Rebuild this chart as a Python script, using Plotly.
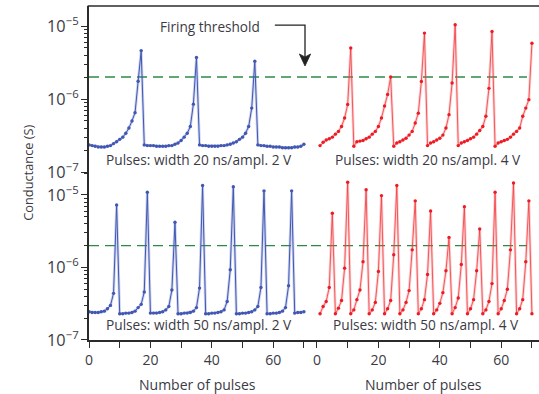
import plotly.graph_objects as go

# Conductance traces, in units of 1e-7 S
pulses_tl = list(range(0, 71))
g_tl = [2.35, 2.3, 2.25, 2.2, 2.2, 2.2, 2.25, 2.3, 2.45, 2.6,
        2.8, 3.0, 3.4, 4.0, 5.0, 6.5, 17.5, 46, 2.35, 2.3,
        2.3, 2.3, 2.25, 2.25, 2.25, 2.25, 2.3, 2.3, 2.4, 2.5,
        2.7, 3.0, 3.4, 4.2, 8.5, 37, 2.35, 2.3, 2.3, 2.25,
        2.25, 2.25, 2.25, 2.3, 2.3, 2.35, 2.4, 2.5, 2.6, 2.8,
        3.0, 3.4, 4.2, 7.5, 33, 2.35, 2.3, 2.3, 2.25, 2.25,
        2.2, 2.2, 2.2, 2.15, 2.15, 2.15, 2.15, 2.2, 2.2, 2.25,
        2.4]

pulses_tr = list(range(1, 71))
g_tr = [2.3, 2.55, 2.75, 2.85, 3.0, 3.3, 3.6, 4.2, 5.5, 8.4,
        50, 2.25, 2.6, 2.65, 2.7, 2.85, 3.0, 3.3, 3.6, 4.2, 5.5, 8.0, 11.5, 20, 2.25,
        2.5, 2.6, 2.75, 2.9, 3.2, 3.6, 4.7, 6.4, 17.4, 80,
        2.3, 2.5, 2.6, 2.75, 2.9, 3.2, 4.0, 6.1, 16.6, 104,
        2.3, 2.5, 2.6, 2.7, 2.85, 3.0, 3.3, 3.7, 4.2, 5.8, 14, 84,
        2.25, 2.5, 2.6, 2.7, 2.8, 3.0, 3.3, 3.6, 4.0, 5.8, 7.5, 9.8, 58]

pulses_bl = list(range(0, 71))
g_bl = [2.45, 2.4, 2.4, 2.4, 2.45, 2.5, 2.7, 3.0, 4.4, 73,
        2.3, 2.3, 2.35, 2.35, 2.4, 2.5, 2.8, 3.1, 4.6, 109,
        2.35, 2.35, 2.35, 2.4, 2.45, 2.6, 2.9, 4.9, 42, 2.3,
        2.3, 2.35, 2.35, 2.4, 2.5, 2.8, 5.2, 135, 2.3, 2.3,
        2.35, 2.35, 2.4, 2.45, 2.6, 3.4, 9.3, 130, 2.3, 2.3,
        2.35, 2.35, 2.4, 2.45, 2.6, 2.9, 5.3, 114, 2.3, 2.3,
        2.35, 2.35, 2.4, 2.5, 2.8, 5.6, 114, 2.35, 2.4, 2.4, 2.45]

pulses_br = list(range(1, 71))
g_br = [2.3, 2.9, 3.4, 5.3, 56,
        2.3, 2.75, 3.5, 9.8, 150,
        2.3, 2.6, 3.6, 4.9, 12, 118,
        2.3, 2.6, 3.3, 8.8, 98,
        2.3, 2.7, 3.5, 15, 135,
        2.3, 2.6, 3.3, 4.8, 17.5, 83,
        2.3, 2.7, 3.6, 8, 60,
        2.3, 2.6, 3.2, 4.5, 9, 26,
        2.3, 2.8, 3.8, 11, 69,
        2.3, 2.7, 3.6, 9, 34,
        2.3, 2.6, 3.4, 6, 109,
        2.3, 2.7, 3.5, 5, 17.5, 146,
        2.3, 2.7, 3.6, 12, 83,
        2.3]

UNIT = 1e-7
THRESHOLD = 2e-6
panel_labels = ["Pulses: width 20 ns/ampl. 2 V", "Pulses: width 20 ns/ampl. 4 V",
                "Pulses: width 50 ns/ampl. 2 V", "Pulses: width 50 ns/ampl. 4 V"]
x_major = [0, 20, 40, 60]
x_minor = [10, 30, 50, 70]

BLUE = "#4157b3"
BLUE_HALO = "rgba(90,110,195,0.3)"
RED = "#ec1c24"
RED_LINE = "rgba(242,55,60,0.8)"
RED_HALO = "rgba(245,90,95,0.28)"
GREEN = "#2d8a45"
TEXT = "#3b3a45"
AXIS = "#2b2b2b"
FONT = "Open Sans"

fig = go.Figure()


def add_series(x, g, xa, ya, line, halo, dot):
    y = [v * UNIT for v in g]
    fig.add_trace(go.Scatter(x=x, y=y, xaxis=xa, yaxis=ya, mode="lines",
                             line=dict(color=halo, width=2.8), hoverinfo="skip",
                             showlegend=False))
    fig.add_trace(go.Scatter(x=x, y=y, xaxis=xa, yaxis=ya, mode="lines+markers",
                             line=dict(color=line, width=1.0),
                             marker=dict(color=dot, size=3.4),
                             showlegend=False))


def add_threshold(x0, x1, xa, ya):
    fig.add_trace(go.Scatter(x=[x0, x1], y=[THRESHOLD, THRESHOLD], xaxis=xa, yaxis=ya,
                             mode="lines", line=dict(color=GREEN, width=1.4, dash="10px,6px"),
                             hoverinfo="skip", showlegend=False))


LEFT_RANGE = [0, 72.3]
RIGHT_RANGE = [-1.95, 72.3]

add_threshold(0, 72.3, "x3", "y3")
add_threshold(-1.95, 68.4, "x4", "y4")
add_threshold(0, 72.3, "x", "y")
add_threshold(-1.95, 68.4, "x2", "y2")

add_series(pulses_tl, g_tl, "x3", "y3", BLUE, BLUE_HALO, BLUE)
add_series(pulses_tr, g_tr, "x4", "y4", RED_LINE, RED_HALO, RED)
add_series(pulses_bl, g_bl, "x", "y", BLUE, BLUE_HALO, BLUE)
add_series(pulses_br, g_br, "x2", "y2", RED_LINE, RED_HALO, RED)

XSPLIT = 0.4933
YSPLIT = 0.503

xaxis_common = dict(showgrid=False, zeroline=False, showline=True,
                    linecolor=AXIS, linewidth=1.5, ticks="outside", ticklen=6,
                    tickwidth=1.3, tickcolor=AXIS, tickmode="array", tickvals=x_major,
                    tickfont=dict(size=14, color=TEXT, family=FONT),
                    minor=dict(ticks="outside", ticklen=6, tickwidth=1.3, tickcolor=AXIS,
                               tickvals=x_minor, showgrid=False))
yaxis_common = dict(type="log", showgrid=False, zeroline=False, showline=True,
                    linecolor=AXIS, linewidth=1.5, ticks="outside", ticklen=6,
                    tickwidth=1.3, tickcolor=AXIS, dtick=1, exponentformat="power",
                    tickfont=dict(size=13, color=TEXT, family=FONT),
                    minor=dict(ticks="outside", ticklen=3.5, tickwidth=1,
                               tickcolor=AXIS, dtick="D1", showgrid=False))

fig.update_layout(
    width=539, height=394,
    margin=dict(l=89, r=0, t=6, b=54),
    paper_bgcolor="white", plot_bgcolor="white",
    font=dict(family=FONT, color=TEXT, size=13),
    xaxis=dict(xaxis_common, domain=[0, XSPLIT], anchor="y", range=LEFT_RANGE),
    xaxis2=dict(xaxis_common, domain=[XSPLIT, 1], anchor="y2", range=RIGHT_RANGE),
    xaxis3=dict(domain=[0, XSPLIT], anchor="y3", range=LEFT_RANGE, visible=False),
    xaxis4=dict(domain=[XSPLIT, 1], anchor="y4", range=RIGHT_RANGE, visible=False),
    yaxis=dict(yaxis_common, domain=[0, YSPLIT], anchor="x", range=[-7, -4.683]),
    yaxis2=dict(domain=[0, YSPLIT], anchor="x2", type="log", range=[-7, -4.683], visible=False),
    yaxis3=dict(yaxis_common, domain=[YSPLIT, 1], anchor="x3", range=[-7, -4.726]),
    yaxis4=dict(domain=[YSPLIT, 1], anchor="x4", type="log", range=[-7, -4.726], visible=False),
)

# top frame line
fig.add_shape(type="line", xref="paper", yref="paper", x0=-0.003, x1=1, y0=1, y1=1,
              line=dict(color=AXIS, width=1.5))

# "Firing threshold" pointer: elbow line plus a filled arrowhead
fig.add_shape(type="path", xref="paper", yref="paper",
              path="M 0.413,0.943 L 0.480,0.943 L 0.480,0.845",
              line=dict(color="#222", width=1.3))
fig.add_shape(type="path", xref="paper", yref="paper",
              path="M 0.4675,0.8563 L 0.480,0.8473 L 0.4925,0.8563 L 0.480,0.8204 Z",
              line=dict(color="#222", width=0.8), fillcolor="#222")
fig.add_annotation(x=0.269, y=0.940, xref="paper", yref="paper", text="Firing threshold",
                   showarrow=False, font=dict(size=13.6, color=TEXT), xanchor="center",
                   yanchor="middle")

label_pos = [(0.244, 0.539), (0.753, 0.539), (0.244, 0.045), (0.749, 0.045)]
for txt, (px, py) in zip(panel_labels, label_pos):
    fig.add_annotation(x=px, y=py, xref="paper", yref="paper", text=txt, showarrow=False,
                       font=dict(size=13.7, color=TEXT), xanchor="center", yanchor="middle")

fig.add_annotation(x=-0.136, y=0.500, xref="paper", yref="paper", text="Conductance (S)",
                   textangle=-90, showarrow=False, font=dict(size=12.8, color=TEXT),
                   xanchor="center", yanchor="middle")
for px in (0.240, 0.744):
    fig.add_annotation(x=px, y=-0.1335, xref="paper", yref="paper", text="Number of pulses",
                       showarrow=False, font=dict(size=14, color=TEXT),
                       xanchor="center", yanchor="middle")

fig.write_html("out.html")
